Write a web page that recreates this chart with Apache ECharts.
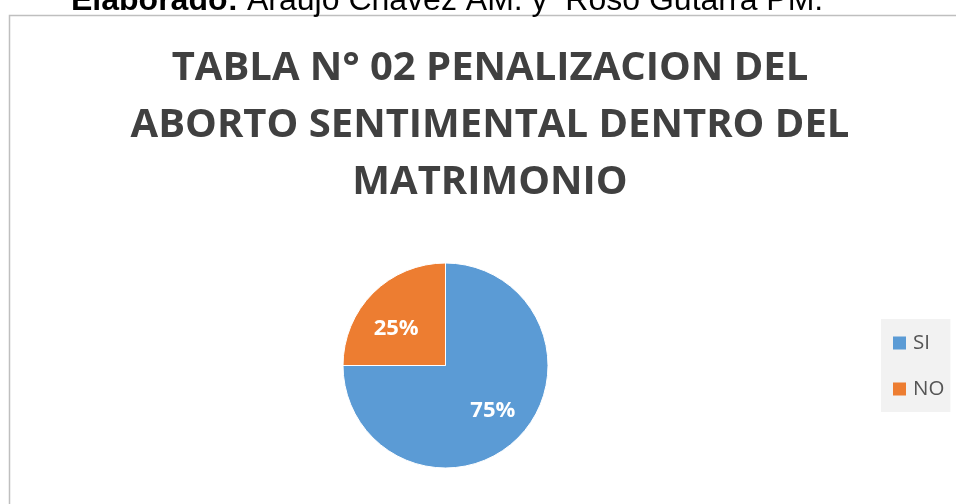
<!DOCTYPE html>
<html><head><meta charset="utf-8">
<script src="https://cdn.jsdelivr.net/npm/echarts@6/dist/echarts.min.js"></script>
<style>html,body{margin:0;padding:0;background:#fff}#c{width:956px;height:504px}</style>
</head><body><div id="c"></div>
<script>
const categories = ['SI', 'NO'];
const values = [75, 25];
const colors = ['#5B9BD5', '#ED7D31'];
const titleText = 'TABLA N° 02 PENALIZACION DEL\nABORTO SENTIMENTAL DENTRO DEL\nMATRIMONIO';
const sourceText = 'Araujo Chavez AM. y  Roso Gutarra PM.';
const labelShift = [[9, 7], [-11, 2]];

const chart = echarts.init(document.getElementById('c'));
chart.setOption({
  animation: false,
  color: colors,
  title: {
    text: titleText,
    left: 490, top: 40, textAlign: 'center', padding: 0,
    textStyle: { fontFamily: 'Open Sans', fontWeight: 'bold', fontSize: 40, color: '#404040', lineHeight: 57 }
  },
  legend: {
    orient: 'vertical', left: 881, top: 319,
    padding: [13.5, 6, 12.5, 12], itemGap: 25,
    backgroundColor: '#f2f2f2',
    icon: 'rect', itemWidth: 13, itemHeight: 13,
    itemStyle: { borderWidth: 0 },
    textStyle: { fontFamily: 'Open Sans', fontSize: 20.5, color: '#555555', padding: [0, 0, 0, 2], lineHeight: 20 },
    data: categories
  },
  graphic: [
    { type: 'rect', shape: { x: 9.5, y: 15.5, width: 1000, height: 600 }, style: { fill: 'none', stroke: '#bfbfbf', lineWidth: 1.5 }, silent: true },
    { type: 'text', left: 71, top: -15, style: { rich: { b: { fontWeight: 'bold', fontFamily: 'Liberation Sans', fontSize: 32, fill: '#000' }, n: { fontFamily: 'Liberation Sans', fontSize: 32, fill: '#000' } }, text: '{b|Elaborado:}{n|\u00a0' + sourceText + '}' } }
  ],
  series: [{
    type: 'pie',
    center: [445.5, 365.5],
    radius: [0, 102.5],
    startAngle: 90,
    clockwise: true,
    itemStyle: { borderColor: '#fff', borderWidth: 1 },
    label: {
      position: 'inside',
      formatter: '{d}%',
      fontFamily: 'Open Sans', fontWeight: 'bold', fontSize: 22, color: '#fff'
    },
    labelLayout: p => ({ dx: labelShift[p.dataIndex][0], dy: labelShift[p.dataIndex][1] }),
    labelLine: { show: false },
    emphasis: { disabled: true },
    data: categories.map((c, i) => ({ name: c, value: values[i] }))
  }]
});
</script></body></html>
